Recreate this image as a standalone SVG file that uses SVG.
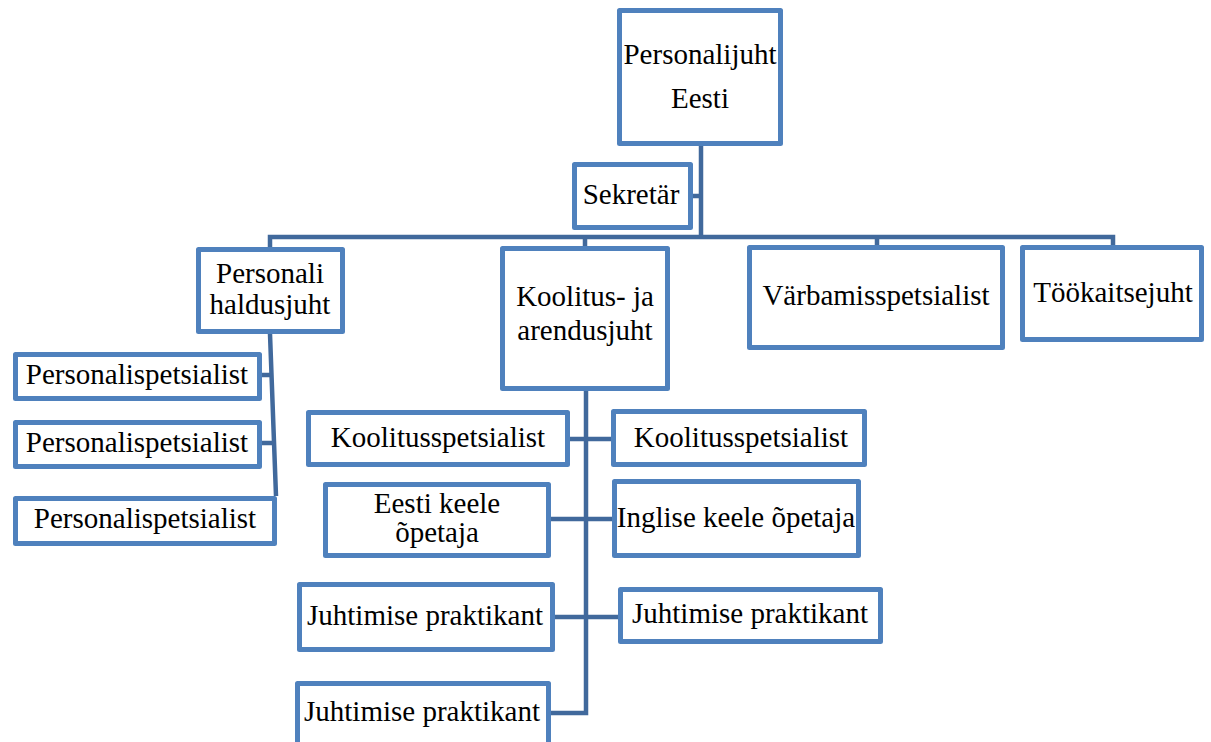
<svg xmlns="http://www.w3.org/2000/svg" width="1211" height="742" viewBox="0 0 1211 742">
<style>
.box{fill:#fff;stroke:#4F81BD;stroke-width:5;stroke-linejoin:round}
.ln{fill:none;stroke:#41699C;stroke-width:4.5}
text{font-family:"Liberation Serif","Times New Roman",serif;font-size:29px;fill:#000;text-anchor:middle}
</style>
<rect width="1211" height="742" fill="#fff"/>
<g id="connectors">
<path class="ln" d="M701 146V237M693 196H701M270 247V237H1113V245M585 237V246M877 237V246"/>
<path class="ln" d="M270 334L276 496M262 375H272M262 443H274"/>
<path class="ln" d="M586 390V713H551M570 439H612M551 519H612M555 617H618"/>
</g>
<g id="n-personalijuht"><rect class="box" x="619.5" y="10.5" width="161" height="133"/><text x="700" y="64">Personalijuht</text><text x="700" y="108">Eesti</text></g>
<g id="n-sekretar"><rect class="box" x="574.5" y="164.5" width="116" height="63"/><text x="631" y="204">Sekretär</text></g>
<g id="n-personali-haldusjuht"><rect class="box" x="198.5" y="249.5" width="144" height="82"/><text x="270" y="283">Personali</text><text x="270" y="314">haldusjuht</text></g>
<g id="n-koolitus-arendusjuht"><rect class="box" x="502.5" y="248.5" width="165" height="140"/><text x="585" y="306">Koolitus- ja</text><text x="585" y="340">arendusjuht</text></g>
<g id="n-varbamis"><rect class="box" x="749.5" y="247.5" width="253" height="100"/><text x="876" y="305">Värbamisspetsialist</text></g>
<g id="n-tookaitsejuht"><rect class="box" x="1022.5" y="247.5" width="179" height="92"/><text x="1113" y="302">Töökaitsejuht</text></g>
<g id="n-personalispets-1"><rect class="box" x="15.5" y="354.5" width="244" height="44"/><text x="137" y="384">Personalispetsialist</text></g>
<g id="n-personalispets-2"><rect class="box" x="15.5" y="422.5" width="244" height="44"/><text x="137" y="452">Personalispetsialist</text></g>
<g id="n-personalispets-3"><rect class="box" x="15.5" y="498.5" width="259" height="45"/><text x="145" y="528">Personalispetsialist</text></g>
<g id="n-koolitusspets-left"><rect class="box" x="308.5" y="412.5" width="259" height="52"/><text x="438" y="447">Koolitusspetsialist</text></g>
<g id="n-koolitusspets-right"><rect class="box" x="613.5" y="411.5" width="251" height="53"/><text x="741" y="447">Koolitusspetsialist</text></g>
<g id="n-eesti-keele"><rect class="box" x="325.5" y="484.5" width="223" height="71"/><text x="437" y="513">Eesti keele</text><text x="437" y="542">õpetaja</text></g>
<g id="n-inglise-keele"><rect class="box" x="614.5" y="481.5" width="244" height="74"/><text x="736" y="527">Inglise keele õpetaja</text></g>
<g id="n-juhtimise-1"><rect class="box" x="299.5" y="584.5" width="253" height="65"/><text x="425" y="625">Juhtimise praktikant</text></g>
<g id="n-juhtimise-2"><rect class="box" x="620.5" y="589.5" width="260" height="52"/><text x="750" y="623">Juhtimise praktikant</text></g>
<g id="n-juhtimise-3"><rect class="box" x="297.5" y="683.5" width="251" height="70"/><text x="422" y="721">Juhtimise praktikant</text></g>
</svg>
